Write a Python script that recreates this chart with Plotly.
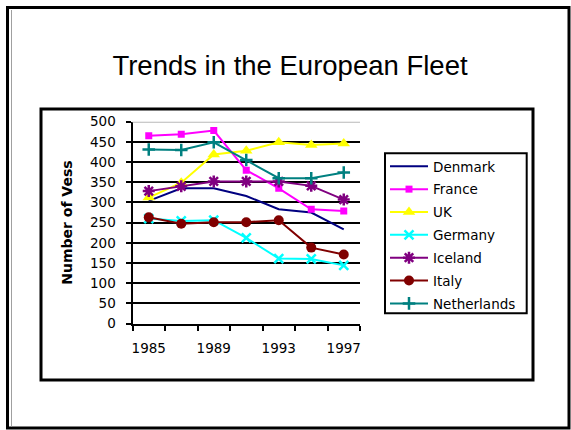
import plotly.graph_objects as go

W, H = 571, 430

years = ["1985", "1987", "1989", "1991", "1993", "1995", "1997"]
year_labels = ["1985", "", "1989", "", "1993", "", "1997"]

denmark = [304, 335, 335, 316, 283, 275, 233]
france = [465, 469, 478, 380, 335, 283, 279]
uk = [312, 349, 419, 428, 449, 442, 446]
germany = [260, 254, 256, 212, 161, 160, 144]
iceland = [328, 340, 352, 352, 352, 341, 307]
italy = [263, 247, 251, 251, 256, 188, 171]
netherlands = [431, 430, 449, 405, 360, 360, 374]

y_ticks = [0, 50, 100, 150, 200, 250, 300, 350, 400, 450, 500]

series = [
    ("Denmark", denmark, "#000080", None, 0, 0),
    ("France", france, "#FF00FF", "square", 7, 0),
    ("UK", uk, "#FFFF00", "triangle-up", 11, 0),
    ("Germany", germany, "#00FFFF", "x-thin", 9, 2.5),
    ("Iceland", iceland, "#800080", "asterisk", 10, 2.5),
    ("Italy", italy, "#800000", "circle", 10, 0),
    ("Netherlands", netherlands, "#008080", "cross-thin", 9, 2.5),
]

fig = go.Figure()
for name, vals, color, sym, size, lw in series:
    if sym is None:
        fig.add_trace(go.Scatter(x=years, y=vals, name=name, mode="lines",
                                 line=dict(color=color, width=2),
                                 legendgroup=name))
    else:
        fig.add_trace(go.Scatter(
            x=years, y=vals, name=name, mode="lines+markers",
            line=dict(color=color, width=2),
            marker=dict(symbol=sym, size=size, color=color,
                        line=dict(color=color, width=lw)),
            legendgroup=name))

def px(x):
    return x / W

def py(y):
    return 1 - y / H

shapes = [
    # slide border
    dict(type="rect", xref="paper", yref="paper", x0=px(7.5), x1=px(569), y0=py(7.5), y1=py(428),
         line=dict(color="black", width=3)),
    dict(type="line", xref="paper", yref="paper", x0=px(11.5), x1=px(11.5), y0=py(10), y1=py(426.5),
         line=dict(color="#a0a0a0", width=1)),
    # chart area border
    dict(type="rect", xref="paper", yref="paper", x0=px(41), x1=px(533), y0=py(109), y1=py(380),
         line=dict(color="black", width=3)),
    # legend box
    dict(type="rect", xref="paper", yref="paper", x0=px(385), x1=px(526.7), y0=py(153.3), y1=py(313.3),
         line=dict(color="black", width=2)),
    # top of plot area (light)
    dict(type="line", xref="x domain", yref="y", x0=0, x1=1, y0=500, y1=500,
         line=dict(color="#b8b8b8", width=2)),
]

fig.update_layout(
    template="none",
    width=W, height=H, autosize=False,
    margin=dict(l=0, r=0, t=0, b=0, pad=0),
    paper_bgcolor="white", plot_bgcolor="white",
    font=dict(family="DejaVu Sans", color="black", size=13.5),
    title=dict(text="Trends in the European Fleet", x=px(290), xanchor="center",
               y=py(65), yanchor="middle", automargin=False,
               font=dict(family="Liberation Sans, Arial", size=27.5, color="black")),
    xaxis=dict(domain=[px(132.5), px(360)], type="category", automargin=False,
               categoryorder="array", categoryarray=years,
               range=[-0.5, 6.5], tickvals=years, ticktext=year_labels,
               tickson="boundaries", ticks="outside", ticklen=5, tickwidth=2,
               tickangle=0,
               tickcolor="black", showline=True, linecolor="black", linewidth=2,
               showgrid=False, zeroline=False, ticklabelstandoff=11,
               tickfont=dict(family="DejaVu Sans", size=13.5)),
    yaxis=dict(domain=[py(323.5), py(121.7)], range=[0, 500], automargin=False,
               tickvals=y_ticks, ticks="outside", ticklen=5, tickwidth=2,
               tickcolor="black", showline=True, linecolor="black", linewidth=2,
               showgrid=True, gridcolor="black", gridwidth=1.5, zeroline=False,
               ticklabelstandoff=7,
               tickfont=dict(family="DejaVu Sans", size=13.5),
               title=dict(text="Number of Vess", standoff=14,
                          font=dict(family="DejaVu Sans", size=14, weight="bold"))),
    legend=dict(x=px(385), y=py(151), xanchor="left", yanchor="top",
                borderwidth=0, bgcolor="rgba(0,0,0,0)",
                tracegroupgap=2.3, itemwidth=38,
                font=dict(family="DejaVu Sans", size=13.5),
                traceorder="grouped"),
    showlegend=True,
    shapes=shapes,
)

fig.write_html("out.html", config={"displayModeBar": False},
               post_script="document.body.style.margin='0';document.body.style.overflow='hidden';")
